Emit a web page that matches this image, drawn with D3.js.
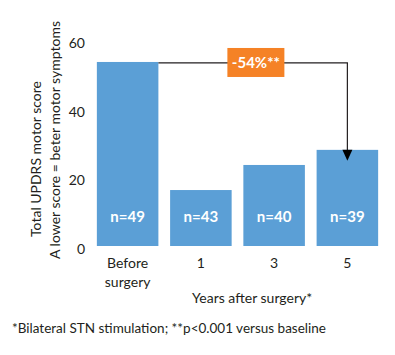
<!DOCTYPE html>
<html>
<head>
<meta charset="utf-8">
<script src="https://cdn.jsdelivr.net/npm/d3@7"></script>
<style>
  html, body { margin: 0; padding: 0; background: #fff; }
  svg { display: block; }
  text { font-family: "Lato", "Open Sans", sans-serif; fill: #231F20; }
</style>
</head>
<body>
<div id="chart"></div>
<script>
const categories = ["Before surgery", "1", "3", "5"];
const scores = [53.6, 16.3, 23.6, 28.0];
const nLabels = ["n=49", "n=43", "n=40", "n=39"];
const yTicks = [0, 20, 40, 60];
const changeLabel = "-54%**";
const yTitle1 = "Total UPDRS motor score";
const yTitle2 = "A lower score = beter motor symptoms";
const xTitle = "Years after surgery*";
const footnote = "*Bilateral STN stimulation; **p<0.001 versus baseline";

const W = 395, H = 355;
const svg = d3.select("#chart").append("svg").attr("width", W).attr("height", H);

const x = d3.scaleBand().domain(categories).range([91, 384]).paddingInner(0.16).paddingOuter(0.08);
const y = d3.scaleLinear().domain([0, 60]).range([246, 40]);

const blue = "#5B9FD6", orange = "#F58226", ink = "#231F20";

// bars
svg.append("g").selectAll("rect").data(scores).join("rect")
  .attr("x", (d, i) => x(categories[i]))
  .attr("y", d => y(d))
  .attr("width", x.bandwidth())
  .attr("height", d => y(0) - y(d))
  .attr("fill", blue);

// n labels
svg.append("g").selectAll("text").data(nLabels).join("text")
  .attr("x", (d, i) => x(categories[i]) + x.bandwidth() / 2)
  .attr("y", y(0) - 24)
  .attr("text-anchor", "middle")
  .attr("font-size", 15)
  .attr("font-weight", 700)
  .style("fill", "#fff")
  .text(d => d);

// y axis
const yAxis = d3.axisLeft(y).tickValues(yTicks).tickSize(0).tickPadding(0);
const gy = svg.append("g").attr("transform", "translate(85,3)").call(yAxis);
gy.select(".domain").remove();
gy.selectAll("text").attr("font-size", 14).style("font-family", "Lato, sans-serif").style("fill", ink);

// x axis labels
const xAxis = d3.axisBottom(x).tickSize(0).tickPadding(0).tickFormat(() => "");
const gx = svg.append("g").attr("transform", `translate(0,${y(0)})`).call(xAxis);
gx.select(".domain").remove();
gx.selectAll(".tick").each(function(d) {
  const t = d3.select(this).append("text")
    .attr("text-anchor", "middle")
    .attr("font-size", 14)
    .style("fill", ink);
  const words = d === "Before surgery" ? ["Before", "surgery"] : [d];
  words.forEach((w, i) => t.append("tspan").attr("x", 0).attr("y", 22 + i * 19).text(w));
});

// x title
svg.append("text")
  .attr("x", (x(categories[1]) + x(categories[3]) + x.bandwidth()) / 2 - 22)
  .attr("y", 303)
  .attr("text-anchor", "middle")
  .attr("font-size", 14)
  .text(xTitle);

// y titles
svg.append("text")
  .attr("transform", `translate(41,159) rotate(-90)`)
  .attr("text-anchor", "middle")
  .attr("font-size", 14)
  .text(yTitle1);
svg.append("text")
  .attr("transform", `translate(60,140) rotate(-90)`)
  .attr("text-anchor", "middle")
  .attr("font-size", 14)
  .text(yTitle2);

// connector arrow
const x0 = x(categories[0]) + x.bandwidth();
const xe = x(categories[3]) + x.bandwidth() / 2;
const ly = y(scores[0]) + 1;
const tipY = y(scores[3]) + 11;
svg.append("path")
  .attr("d", `M${x0},${ly}H${xe}V${tipY - 8}`)
  .attr("fill", "none")
  .attr("stroke", ink)
  .attr("stroke-width", 1.2);
svg.append("path")
  .attr("d", `M${xe - 5},${tipY - 11}L${xe + 5},${tipY - 11}L${xe},${tipY}Z`)
  .attr("fill", "#000");

// orange label box
const bx = (x0 + xe) / 2 + 3;
svg.append("rect")
  .attr("x", bx - 28.5).attr("y", ly - 15)
  .attr("width", 57).attr("height", 29)
  .attr("fill", orange);
svg.append("text")
  .attr("x", bx).attr("y", ly + 5)
  .attr("text-anchor", "middle")
  .attr("font-size", 15)
  .attr("font-weight", 700)
  .style("fill", "#fff")
  .text(changeLabel);

// footnote
svg.append("text")
  .attr("x", 12).attr("y", 333)
  .attr("font-size", 13.5)
  .text(footnote);
</script>
</body>
</html>
